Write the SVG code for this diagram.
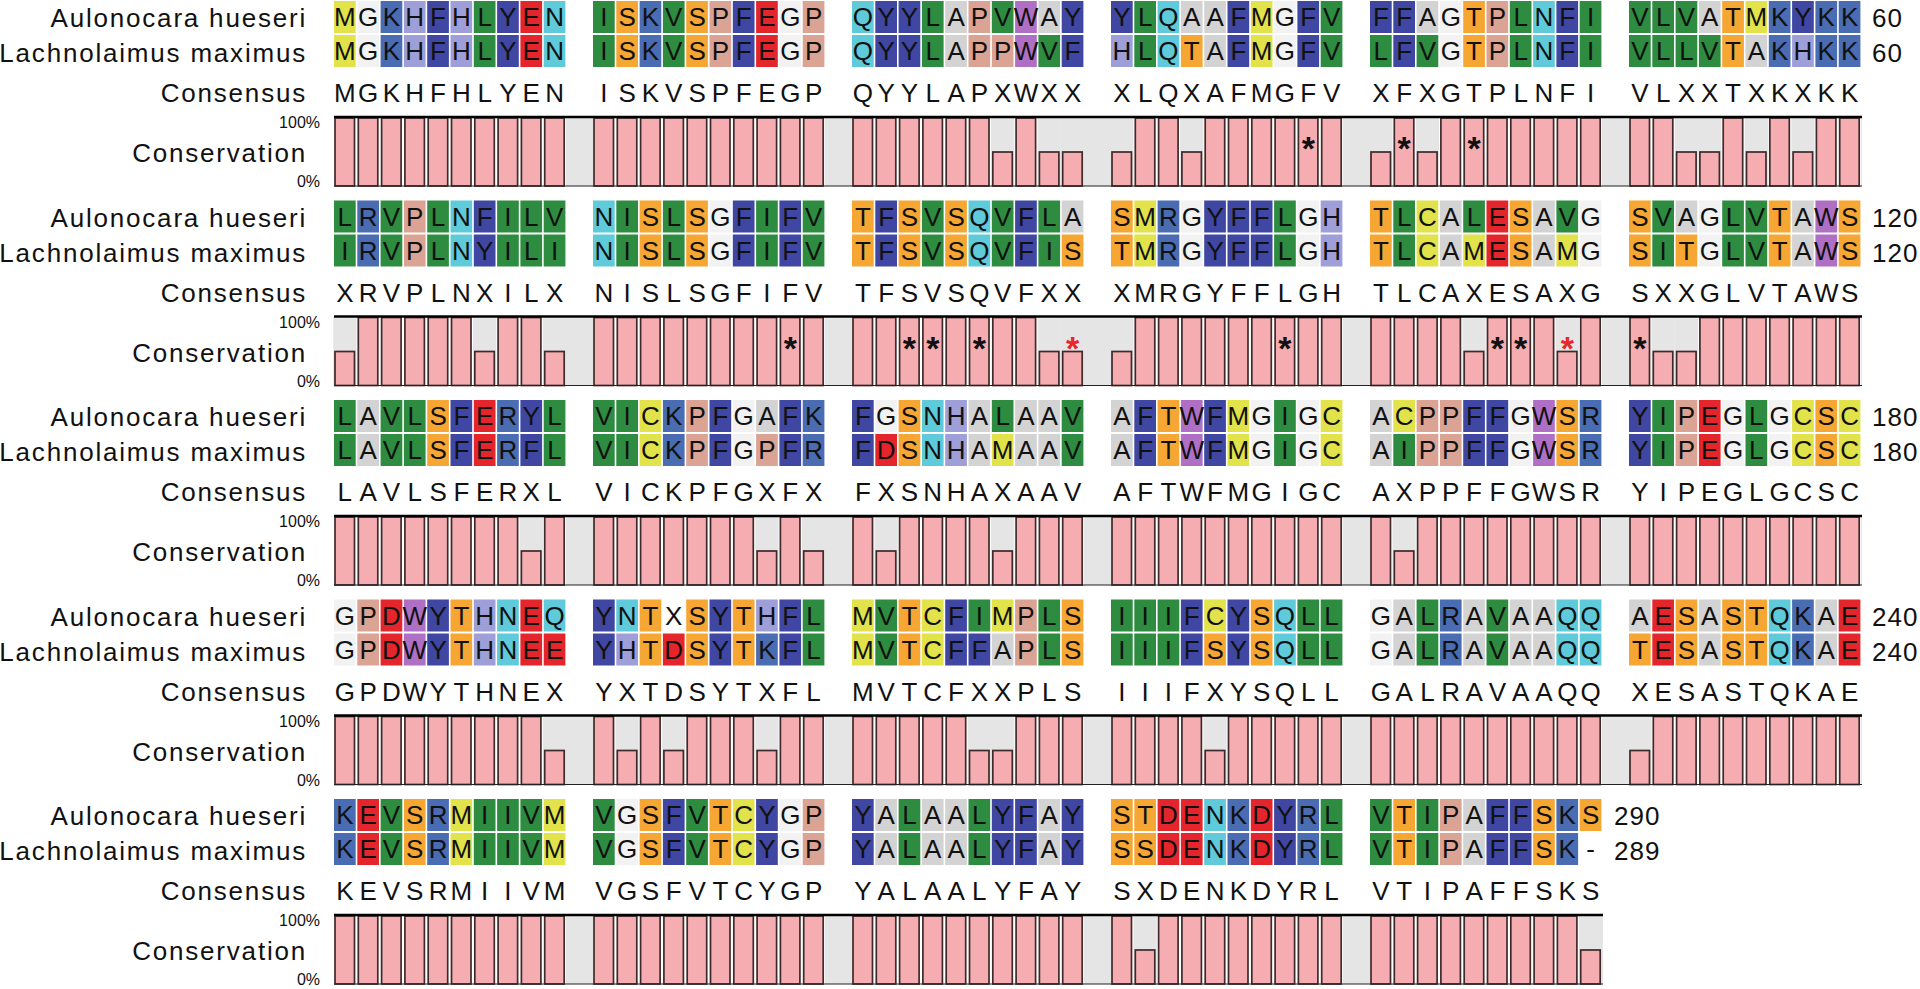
<svg xmlns="http://www.w3.org/2000/svg" width="1920" height="989" viewBox="0 0 1920 989">
<style>
text{font-family:"Liberation Sans",Arial,sans-serif;fill:#111}
.lb{font-size:26px;letter-spacing:1.8px;text-anchor:end}
.nm{font-size:26px;letter-spacing:1px}
.pc{font-size:16px;text-anchor:end}
.q text,.cs{font-size:26px;text-anchor:middle}
.ast{font-size:34px;font-weight:bold;text-anchor:middle}
text.red{fill:#e8262c}
.q rect{width:21.7px;height:32px}
.q rect:nth-of-type(2){x:23.3px}.q rect:nth-of-type(3){x:46.6px}.q rect:nth-of-type(4){x:69.9px}.q rect:nth-of-type(5){x:93.2px}.q rect:nth-of-type(6){x:116.5px}.q rect:nth-of-type(7){x:139.8px}.q rect:nth-of-type(8){x:163.1px}.q rect:nth-of-type(9){x:186.4px}.q rect:nth-of-type(10){x:209.7px}
.M,.C{fill:#e2e24a}.G{fill:#f2f2f2}.K,.R{fill:#4a6cb3}.H{fill:#9e9ed8}.F,.Y{fill:#3f47a3}.L,.I,.V{fill:#2e8c40}.E,.D{fill:#e4262c}.N,.Q{fill:#5fcad9}.S,.T{fill:#f6a633}.P{fill:#dba393}.A{fill:#d3d3d3}.W{fill:#ae6fc4}.X{fill:none}
.bg{fill:#e5e5e5}
.w{fill:#fff;width:232px;height:69px;y:1px}
.gc{fill:#e5e5e5;width:23.3px;height:69px;y:1px}
.fb,.hb{fill:#f5adb1;stroke:#3e2a2a;stroke-width:1.7;width:19.5px}
.fb{height:68px;y:1px}
.hb{height:34px;y:35px}
.tl{stroke:#000;stroke-width:2.5}
.bl{stroke:#222;stroke-width:1.2}
</style>
<g id="block1">
<text class="lb" x="307" y="27">Aulonocara hueseri</text>
<text class="lb" x="307" y="62">Lachnolaimus maximus</text>
<text class="lb" x="307" y="102">Consensus</text>
<text class="lb" x="307" y="162">Conservation</text>
<text class="pc" x="320" y="128">100%</text>
<text class="pc" x="320" y="187">0%</text>
<text class="nm" x="1872" y="27">60</text>
<text class="nm" x="1872" y="62">60</text>
<rect class="bg" x="334" y="118" width="1528" height="68"/>
<g transform="translate(334,0)">
<g class="q" transform="translate(0,1)"><rect class="M"/><rect class="G"/><rect class="K"/><rect class="H"/><rect class="F"/><rect class="H"/><rect class="L"/><rect class="Y"/><rect class="E"/><rect class="N"/><text x="10.85 34.15 57.45 80.75 104.05 127.35 150.65 173.95 197.25 220.55" y="25">MGKHFHLYEN</text></g>
<g class="q" transform="translate(0,35)"><rect class="M"/><rect class="G"/><rect class="K"/><rect class="H"/><rect class="F"/><rect class="H"/><rect class="L"/><rect class="Y"/><rect class="E"/><rect class="N"/><text x="10.85 34.15 57.45 80.75 104.05 127.35 150.65 173.95 197.25 220.55" y="25">MGKHFHLYEN</text></g>
<text class="cs" x="10.85 34.15 57.45 80.75 104.05 127.35 150.65 173.95 197.25 220.55" y="102">MGKHFHLYEN</text>
<g transform="translate(0,117)"><rect class="w"/><rect class="fb" x="1"/><rect class="fb" x="24.3"/><rect class="fb" x="47.6"/><rect class="fb" x="70.9"/><rect class="fb" x="94.2"/><rect class="fb" x="117.5"/><rect class="fb" x="140.8"/><rect class="fb" x="164.1"/><rect class="fb" x="187.4"/><rect class="fb" x="210.7"/></g>
</g>
<g transform="translate(593,0)">
<g class="q" transform="translate(0,1)"><rect class="I"/><rect class="S"/><rect class="K"/><rect class="V"/><rect class="S"/><rect class="P"/><rect class="F"/><rect class="E"/><rect class="G"/><rect class="P"/><text x="10.85 34.15 57.45 80.75 104.05 127.35 150.65 173.95 197.25 220.55" y="25">ISKVSPFEGP</text></g>
<g class="q" transform="translate(0,35)"><rect class="I"/><rect class="S"/><rect class="K"/><rect class="V"/><rect class="S"/><rect class="P"/><rect class="F"/><rect class="E"/><rect class="G"/><rect class="P"/><text x="10.85 34.15 57.45 80.75 104.05 127.35 150.65 173.95 197.25 220.55" y="25">ISKVSPFEGP</text></g>
<text class="cs" x="10.85 34.15 57.45 80.75 104.05 127.35 150.65 173.95 197.25 220.55" y="102">ISKVSPFEGP</text>
<g transform="translate(0,117)"><rect class="w"/><rect class="fb" x="1"/><rect class="fb" x="24.3"/><rect class="fb" x="47.6"/><rect class="fb" x="70.9"/><rect class="fb" x="94.2"/><rect class="fb" x="117.5"/><rect class="fb" x="140.8"/><rect class="fb" x="164.1"/><rect class="fb" x="187.4"/><rect class="fb" x="210.7"/></g>
</g>
<g transform="translate(852,0)">
<g class="q" transform="translate(0,1)"><rect class="Q"/><rect class="Y"/><rect class="Y"/><rect class="L"/><rect class="A"/><rect class="P"/><rect class="V"/><rect class="W"/><rect class="A"/><rect class="Y"/><text x="10.85 34.15 57.45 80.75 104.05 127.35 150.65 173.95 197.25 220.55" y="25">QYYLAPVWAY</text></g>
<g class="q" transform="translate(0,35)"><rect class="Q"/><rect class="Y"/><rect class="Y"/><rect class="L"/><rect class="A"/><rect class="P"/><rect class="P"/><rect class="W"/><rect class="V"/><rect class="F"/><text x="10.85 34.15 57.45 80.75 104.05 127.35 150.65 173.95 197.25 220.55" y="25">QYYLAPPWVF</text></g>
<text class="cs" x="10.85 34.15 57.45 80.75 104.05 127.35 150.65 173.95 197.25 220.55" y="102">QYYLAPXWXX</text>
<g transform="translate(0,117)"><rect class="w"/><rect class="gc" x="139"/><rect class="gc" x="185.6"/><rect class="gc" x="208.9"/><rect class="fb" x="1"/><rect class="fb" x="24.3"/><rect class="fb" x="47.6"/><rect class="fb" x="70.9"/><rect class="fb" x="94.2"/><rect class="fb" x="117.5"/><rect class="hb" x="140.8"/><rect class="fb" x="164.1"/><rect class="hb" x="187.4"/><rect class="hb" x="210.7"/></g>
</g>
<g transform="translate(1111,0)">
<g class="q" transform="translate(0,1)"><rect class="Y"/><rect class="L"/><rect class="Q"/><rect class="A"/><rect class="A"/><rect class="F"/><rect class="M"/><rect class="G"/><rect class="F"/><rect class="V"/><text x="10.85 34.15 57.45 80.75 104.05 127.35 150.65 173.95 197.25 220.55" y="25">YLQAAFMGFV</text></g>
<g class="q" transform="translate(0,35)"><rect class="H"/><rect class="L"/><rect class="Q"/><rect class="T"/><rect class="A"/><rect class="F"/><rect class="M"/><rect class="G"/><rect class="F"/><rect class="V"/><text x="10.85 34.15 57.45 80.75 104.05 127.35 150.65 173.95 197.25 220.55" y="25">HLQTAFMGFV</text></g>
<text class="cs" x="10.85 34.15 57.45 80.75 104.05 127.35 150.65 173.95 197.25 220.55" y="102">XLQXAFMGFV</text>
<g transform="translate(0,117)"><rect class="w"/><rect class="gc" x="-0.8"/><rect class="gc" x="69.1"/><rect class="hb" x="1"/><rect class="fb" x="24.3"/><rect class="fb" x="47.6"/><rect class="hb" x="70.9"/><rect class="fb" x="94.2"/><rect class="fb" x="117.5"/><rect class="fb" x="140.8"/><rect class="fb" x="164.1"/><rect class="fb" x="187.4"/><rect class="fb" x="210.7"/></g>
</g>
<g transform="translate(1370,0)">
<g class="q" transform="translate(0,1)"><rect class="F"/><rect class="F"/><rect class="A"/><rect class="G"/><rect class="T"/><rect class="P"/><rect class="L"/><rect class="N"/><rect class="F"/><rect class="I"/><text x="10.85 34.15 57.45 80.75 104.05 127.35 150.65 173.95 197.25 220.55" y="25">FFAGTPLNFI</text></g>
<g class="q" transform="translate(0,35)"><rect class="L"/><rect class="F"/><rect class="V"/><rect class="G"/><rect class="T"/><rect class="P"/><rect class="L"/><rect class="N"/><rect class="F"/><rect class="I"/><text x="10.85 34.15 57.45 80.75 104.05 127.35 150.65 173.95 197.25 220.55" y="25">LFVGTPLNFI</text></g>
<text class="cs" x="10.85 34.15 57.45 80.75 104.05 127.35 150.65 173.95 197.25 220.55" y="102">XFXGTPLNFI</text>
<g transform="translate(0,117)"><rect class="w"/><rect class="gc" x="-0.8"/><rect class="gc" x="45.8"/><rect class="hb" x="1"/><rect class="fb" x="24.3"/><rect class="hb" x="47.6"/><rect class="fb" x="70.9"/><rect class="fb" x="94.2"/><rect class="fb" x="117.5"/><rect class="fb" x="140.8"/><rect class="fb" x="164.1"/><rect class="fb" x="187.4"/><rect class="fb" x="210.7"/></g>
</g>
<g transform="translate(1629,0)">
<g class="q" transform="translate(0,1)"><rect class="V"/><rect class="L"/><rect class="V"/><rect class="A"/><rect class="T"/><rect class="M"/><rect class="K"/><rect class="Y"/><rect class="K"/><rect class="K"/><text x="10.85 34.15 57.45 80.75 104.05 127.35 150.65 173.95 197.25 220.55" y="25">VLVATMKYKK</text></g>
<g class="q" transform="translate(0,35)"><rect class="V"/><rect class="L"/><rect class="L"/><rect class="V"/><rect class="T"/><rect class="A"/><rect class="K"/><rect class="H"/><rect class="K"/><rect class="K"/><text x="10.85 34.15 57.45 80.75 104.05 127.35 150.65 173.95 197.25 220.55" y="25">VLLVTAKHKK</text></g>
<text class="cs" x="10.85 34.15 57.45 80.75 104.05 127.35 150.65 173.95 197.25 220.55" y="102">VLXXTXKXKK</text>
<g transform="translate(0,117)"><rect class="w"/><rect class="gc" x="45.8"/><rect class="gc" x="69.1"/><rect class="gc" x="115.7"/><rect class="gc" x="162.3"/><rect class="fb" x="1"/><rect class="fb" x="24.3"/><rect class="hb" x="47.6"/><rect class="hb" x="70.9"/><rect class="fb" x="94.2"/><rect class="hb" x="117.5"/><rect class="fb" x="140.8"/><rect class="hb" x="164.1"/><rect class="fb" x="187.4"/><rect class="fb" x="210.7"/></g>
</g>
<line class="tl" x1="334" y1="117" x2="1862" y2="117"/>
<line class="bl" x1="334" y1="186" x2="1862" y2="186"/>
<text class="ast" x="1308.25" y="160">*</text>
<text class="ast" x="1404.15" y="160">*</text>
<text class="ast" x="1474.05" y="160">*</text>
</g>
<g id="block2" transform="translate(0,199.5)">
<text class="lb" x="307" y="27">Aulonocara hueseri</text>
<text class="lb" x="307" y="62">Lachnolaimus maximus</text>
<text class="lb" x="307" y="102">Consensus</text>
<text class="lb" x="307" y="162">Conservation</text>
<text class="pc" x="320" y="128">100%</text>
<text class="pc" x="320" y="187">0%</text>
<text class="nm" x="1872" y="27">120</text>
<text class="nm" x="1872" y="62">120</text>
<rect class="bg" x="334" y="118" width="1528" height="68"/>
<g transform="translate(334,0)">
<g class="q" transform="translate(0,1)"><rect class="L"/><rect class="R"/><rect class="V"/><rect class="P"/><rect class="L"/><rect class="N"/><rect class="F"/><rect class="I"/><rect class="L"/><rect class="V"/><text x="10.85 34.15 57.45 80.75 104.05 127.35 150.65 173.95 197.25 220.55" y="25">LRVPLNFILV</text></g>
<g class="q" transform="translate(0,35)"><rect class="I"/><rect class="R"/><rect class="V"/><rect class="P"/><rect class="L"/><rect class="N"/><rect class="Y"/><rect class="I"/><rect class="L"/><rect class="I"/><text x="10.85 34.15 57.45 80.75 104.05 127.35 150.65 173.95 197.25 220.55" y="25">IRVPLNYILI</text></g>
<text class="cs" x="10.85 34.15 57.45 80.75 104.05 127.35 150.65 173.95 197.25 220.55" y="102">XRVPLNXILX</text>
<g transform="translate(0,117)"><rect class="w"/><rect class="gc" x="-0.8"/><rect class="gc" x="139"/><rect class="gc" x="208.9"/><rect class="hb" x="1"/><rect class="fb" x="24.3"/><rect class="fb" x="47.6"/><rect class="fb" x="70.9"/><rect class="fb" x="94.2"/><rect class="fb" x="117.5"/><rect class="hb" x="140.8"/><rect class="fb" x="164.1"/><rect class="fb" x="187.4"/><rect class="hb" x="210.7"/></g>
</g>
<g transform="translate(593,0)">
<g class="q" transform="translate(0,1)"><rect class="N"/><rect class="I"/><rect class="S"/><rect class="L"/><rect class="S"/><rect class="G"/><rect class="F"/><rect class="I"/><rect class="F"/><rect class="V"/><text x="10.85 34.15 57.45 80.75 104.05 127.35 150.65 173.95 197.25 220.55" y="25">NISLSGFIFV</text></g>
<g class="q" transform="translate(0,35)"><rect class="N"/><rect class="I"/><rect class="S"/><rect class="L"/><rect class="S"/><rect class="G"/><rect class="F"/><rect class="I"/><rect class="F"/><rect class="V"/><text x="10.85 34.15 57.45 80.75 104.05 127.35 150.65 173.95 197.25 220.55" y="25">NISLSGFIFV</text></g>
<text class="cs" x="10.85 34.15 57.45 80.75 104.05 127.35 150.65 173.95 197.25 220.55" y="102">NISLSGFIFV</text>
<g transform="translate(0,117)"><rect class="w"/><rect class="fb" x="1"/><rect class="fb" x="24.3"/><rect class="fb" x="47.6"/><rect class="fb" x="70.9"/><rect class="fb" x="94.2"/><rect class="fb" x="117.5"/><rect class="fb" x="140.8"/><rect class="fb" x="164.1"/><rect class="fb" x="187.4"/><rect class="fb" x="210.7"/></g>
</g>
<g transform="translate(852,0)">
<g class="q" transform="translate(0,1)"><rect class="T"/><rect class="F"/><rect class="S"/><rect class="V"/><rect class="S"/><rect class="Q"/><rect class="V"/><rect class="F"/><rect class="L"/><rect class="A"/><text x="10.85 34.15 57.45 80.75 104.05 127.35 150.65 173.95 197.25 220.55" y="25">TFSVSQVFLA</text></g>
<g class="q" transform="translate(0,35)"><rect class="T"/><rect class="F"/><rect class="S"/><rect class="V"/><rect class="S"/><rect class="Q"/><rect class="V"/><rect class="F"/><rect class="I"/><rect class="S"/><text x="10.85 34.15 57.45 80.75 104.05 127.35 150.65 173.95 197.25 220.55" y="25">TFSVSQVFIS</text></g>
<text class="cs" x="10.85 34.15 57.45 80.75 104.05 127.35 150.65 173.95 197.25 220.55" y="102">TFSVSQVFXX</text>
<g transform="translate(0,117)"><rect class="w"/><rect class="gc" x="185.6"/><rect class="gc" x="208.9"/><rect class="fb" x="1"/><rect class="fb" x="24.3"/><rect class="fb" x="47.6"/><rect class="fb" x="70.9"/><rect class="fb" x="94.2"/><rect class="fb" x="117.5"/><rect class="fb" x="140.8"/><rect class="fb" x="164.1"/><rect class="hb" x="187.4"/><rect class="hb" x="210.7"/></g>
</g>
<g transform="translate(1111,0)">
<g class="q" transform="translate(0,1)"><rect class="S"/><rect class="M"/><rect class="R"/><rect class="G"/><rect class="Y"/><rect class="F"/><rect class="F"/><rect class="L"/><rect class="G"/><rect class="H"/><text x="10.85 34.15 57.45 80.75 104.05 127.35 150.65 173.95 197.25 220.55" y="25">SMRGYFFLGH</text></g>
<g class="q" transform="translate(0,35)"><rect class="T"/><rect class="M"/><rect class="R"/><rect class="G"/><rect class="Y"/><rect class="F"/><rect class="F"/><rect class="L"/><rect class="G"/><rect class="H"/><text x="10.85 34.15 57.45 80.75 104.05 127.35 150.65 173.95 197.25 220.55" y="25">TMRGYFFLGH</text></g>
<text class="cs" x="10.85 34.15 57.45 80.75 104.05 127.35 150.65 173.95 197.25 220.55" y="102">XMRGYFFLGH</text>
<g transform="translate(0,117)"><rect class="w"/><rect class="gc" x="-0.8"/><rect class="hb" x="1"/><rect class="fb" x="24.3"/><rect class="fb" x="47.6"/><rect class="fb" x="70.9"/><rect class="fb" x="94.2"/><rect class="fb" x="117.5"/><rect class="fb" x="140.8"/><rect class="fb" x="164.1"/><rect class="fb" x="187.4"/><rect class="fb" x="210.7"/></g>
</g>
<g transform="translate(1370,0)">
<g class="q" transform="translate(0,1)"><rect class="T"/><rect class="L"/><rect class="C"/><rect class="A"/><rect class="L"/><rect class="E"/><rect class="S"/><rect class="A"/><rect class="V"/><rect class="G"/><text x="10.85 34.15 57.45 80.75 104.05 127.35 150.65 173.95 197.25 220.55" y="25">TLCALESAVG</text></g>
<g class="q" transform="translate(0,35)"><rect class="T"/><rect class="L"/><rect class="C"/><rect class="A"/><rect class="M"/><rect class="E"/><rect class="S"/><rect class="A"/><rect class="M"/><rect class="G"/><text x="10.85 34.15 57.45 80.75 104.05 127.35 150.65 173.95 197.25 220.55" y="25">TLCAMESAMG</text></g>
<text class="cs" x="10.85 34.15 57.45 80.75 104.05 127.35 150.65 173.95 197.25 220.55" y="102">TLCAXESAXG</text>
<g transform="translate(0,117)"><rect class="w"/><rect class="gc" x="92.4"/><rect class="gc" x="185.6"/><rect class="fb" x="1"/><rect class="fb" x="24.3"/><rect class="fb" x="47.6"/><rect class="fb" x="70.9"/><rect class="hb" x="94.2"/><rect class="fb" x="117.5"/><rect class="fb" x="140.8"/><rect class="fb" x="164.1"/><rect class="hb" x="187.4"/><rect class="fb" x="210.7"/></g>
</g>
<g transform="translate(1629,0)">
<g class="q" transform="translate(0,1)"><rect class="S"/><rect class="V"/><rect class="A"/><rect class="G"/><rect class="L"/><rect class="V"/><rect class="T"/><rect class="A"/><rect class="W"/><rect class="S"/><text x="10.85 34.15 57.45 80.75 104.05 127.35 150.65 173.95 197.25 220.55" y="25">SVAGLVTAWS</text></g>
<g class="q" transform="translate(0,35)"><rect class="S"/><rect class="I"/><rect class="T"/><rect class="G"/><rect class="L"/><rect class="V"/><rect class="T"/><rect class="A"/><rect class="W"/><rect class="S"/><text x="10.85 34.15 57.45 80.75 104.05 127.35 150.65 173.95 197.25 220.55" y="25">SITGLVTAWS</text></g>
<text class="cs" x="10.85 34.15 57.45 80.75 104.05 127.35 150.65 173.95 197.25 220.55" y="102">SXXGLVTAWS</text>
<g transform="translate(0,117)"><rect class="w"/><rect class="gc" x="22.5"/><rect class="gc" x="45.8"/><rect class="fb" x="1"/><rect class="hb" x="24.3"/><rect class="hb" x="47.6"/><rect class="fb" x="70.9"/><rect class="fb" x="94.2"/><rect class="fb" x="117.5"/><rect class="fb" x="140.8"/><rect class="fb" x="164.1"/><rect class="fb" x="187.4"/><rect class="fb" x="210.7"/></g>
</g>
<line class="tl" x1="334" y1="117" x2="1862" y2="117"/>
<line class="bl" x1="334" y1="186" x2="1862" y2="186"/>
<text class="ast" x="790.25" y="160">*</text>
<text class="ast" x="909.45" y="160">*</text>
<text class="ast" x="932.75" y="160">*</text>
<text class="ast" x="979.35" y="160">*</text>
<text class="ast red" x="1072.55" y="160">*</text>
<text class="ast" x="1284.95" y="160">*</text>
<text class="ast" x="1497.35" y="160">*</text>
<text class="ast" x="1520.65" y="160">*</text>
<text class="ast red" x="1567.25" y="160">*</text>
<text class="ast" x="1639.85" y="160">*</text>
</g>
<g id="block3" transform="translate(0,399)">
<text class="lb" x="307" y="27">Aulonocara hueseri</text>
<text class="lb" x="307" y="62">Lachnolaimus maximus</text>
<text class="lb" x="307" y="102">Consensus</text>
<text class="lb" x="307" y="162">Conservation</text>
<text class="pc" x="320" y="128">100%</text>
<text class="pc" x="320" y="187">0%</text>
<text class="nm" x="1872" y="27">180</text>
<text class="nm" x="1872" y="62">180</text>
<rect class="bg" x="334" y="118" width="1528" height="68"/>
<g transform="translate(334,0)">
<g class="q" transform="translate(0,1)"><rect class="L"/><rect class="A"/><rect class="V"/><rect class="L"/><rect class="S"/><rect class="F"/><rect class="E"/><rect class="R"/><rect class="Y"/><rect class="L"/><text x="10.85 34.15 57.45 80.75 104.05 127.35 150.65 173.95 197.25 220.55" y="25">LAVLSFERYL</text></g>
<g class="q" transform="translate(0,35)"><rect class="L"/><rect class="A"/><rect class="V"/><rect class="L"/><rect class="S"/><rect class="F"/><rect class="E"/><rect class="R"/><rect class="F"/><rect class="L"/><text x="10.85 34.15 57.45 80.75 104.05 127.35 150.65 173.95 197.25 220.55" y="25">LAVLSFERFL</text></g>
<text class="cs" x="10.85 34.15 57.45 80.75 104.05 127.35 150.65 173.95 197.25 220.55" y="102">LAVLSFERXL</text>
<g transform="translate(0,117)"><rect class="w"/><rect class="gc" x="185.6"/><rect class="fb" x="1"/><rect class="fb" x="24.3"/><rect class="fb" x="47.6"/><rect class="fb" x="70.9"/><rect class="fb" x="94.2"/><rect class="fb" x="117.5"/><rect class="fb" x="140.8"/><rect class="fb" x="164.1"/><rect class="hb" x="187.4"/><rect class="fb" x="210.7"/></g>
</g>
<g transform="translate(593,0)">
<g class="q" transform="translate(0,1)"><rect class="V"/><rect class="I"/><rect class="C"/><rect class="K"/><rect class="P"/><rect class="F"/><rect class="G"/><rect class="A"/><rect class="F"/><rect class="K"/><text x="10.85 34.15 57.45 80.75 104.05 127.35 150.65 173.95 197.25 220.55" y="25">VICKPFGAFK</text></g>
<g class="q" transform="translate(0,35)"><rect class="V"/><rect class="I"/><rect class="C"/><rect class="K"/><rect class="P"/><rect class="F"/><rect class="G"/><rect class="P"/><rect class="F"/><rect class="R"/><text x="10.85 34.15 57.45 80.75 104.05 127.35 150.65 173.95 197.25 220.55" y="25">VICKPFGPFR</text></g>
<text class="cs" x="10.85 34.15 57.45 80.75 104.05 127.35 150.65 173.95 197.25 220.55" y="102">VICKPFGXFX</text>
<g transform="translate(0,117)"><rect class="w"/><rect class="gc" x="162.3"/><rect class="gc" x="208.9"/><rect class="fb" x="1"/><rect class="fb" x="24.3"/><rect class="fb" x="47.6"/><rect class="fb" x="70.9"/><rect class="fb" x="94.2"/><rect class="fb" x="117.5"/><rect class="fb" x="140.8"/><rect class="hb" x="164.1"/><rect class="fb" x="187.4"/><rect class="hb" x="210.7"/></g>
</g>
<g transform="translate(852,0)">
<g class="q" transform="translate(0,1)"><rect class="F"/><rect class="G"/><rect class="S"/><rect class="N"/><rect class="H"/><rect class="A"/><rect class="L"/><rect class="A"/><rect class="A"/><rect class="V"/><text x="10.85 34.15 57.45 80.75 104.05 127.35 150.65 173.95 197.25 220.55" y="25">FGSNHALAAV</text></g>
<g class="q" transform="translate(0,35)"><rect class="F"/><rect class="D"/><rect class="S"/><rect class="N"/><rect class="H"/><rect class="A"/><rect class="M"/><rect class="A"/><rect class="A"/><rect class="V"/><text x="10.85 34.15 57.45 80.75 104.05 127.35 150.65 173.95 197.25 220.55" y="25">FDSNHAMAAV</text></g>
<text class="cs" x="10.85 34.15 57.45 80.75 104.05 127.35 150.65 173.95 197.25 220.55" y="102">FXSNHAXAAV</text>
<g transform="translate(0,117)"><rect class="w"/><rect class="gc" x="22.5"/><rect class="gc" x="139"/><rect class="fb" x="1"/><rect class="hb" x="24.3"/><rect class="fb" x="47.6"/><rect class="fb" x="70.9"/><rect class="fb" x="94.2"/><rect class="fb" x="117.5"/><rect class="hb" x="140.8"/><rect class="fb" x="164.1"/><rect class="fb" x="187.4"/><rect class="fb" x="210.7"/></g>
</g>
<g transform="translate(1111,0)">
<g class="q" transform="translate(0,1)"><rect class="A"/><rect class="F"/><rect class="T"/><rect class="W"/><rect class="F"/><rect class="M"/><rect class="G"/><rect class="I"/><rect class="G"/><rect class="C"/><text x="10.85 34.15 57.45 80.75 104.05 127.35 150.65 173.95 197.25 220.55" y="25">AFTWFMGIGC</text></g>
<g class="q" transform="translate(0,35)"><rect class="A"/><rect class="F"/><rect class="T"/><rect class="W"/><rect class="F"/><rect class="M"/><rect class="G"/><rect class="I"/><rect class="G"/><rect class="C"/><text x="10.85 34.15 57.45 80.75 104.05 127.35 150.65 173.95 197.25 220.55" y="25">AFTWFMGIGC</text></g>
<text class="cs" x="10.85 34.15 57.45 80.75 104.05 127.35 150.65 173.95 197.25 220.55" y="102">AFTWFMGIGC</text>
<g transform="translate(0,117)"><rect class="w"/><rect class="fb" x="1"/><rect class="fb" x="24.3"/><rect class="fb" x="47.6"/><rect class="fb" x="70.9"/><rect class="fb" x="94.2"/><rect class="fb" x="117.5"/><rect class="fb" x="140.8"/><rect class="fb" x="164.1"/><rect class="fb" x="187.4"/><rect class="fb" x="210.7"/></g>
</g>
<g transform="translate(1370,0)">
<g class="q" transform="translate(0,1)"><rect class="A"/><rect class="C"/><rect class="P"/><rect class="P"/><rect class="F"/><rect class="F"/><rect class="G"/><rect class="W"/><rect class="S"/><rect class="R"/><text x="10.85 34.15 57.45 80.75 104.05 127.35 150.65 173.95 197.25 220.55" y="25">ACPPFFGWSR</text></g>
<g class="q" transform="translate(0,35)"><rect class="A"/><rect class="I"/><rect class="P"/><rect class="P"/><rect class="F"/><rect class="F"/><rect class="G"/><rect class="W"/><rect class="S"/><rect class="R"/><text x="10.85 34.15 57.45 80.75 104.05 127.35 150.65 173.95 197.25 220.55" y="25">AIPPFFGWSR</text></g>
<text class="cs" x="10.85 34.15 57.45 80.75 104.05 127.35 150.65 173.95 197.25 220.55" y="102">AXPPFFGWSR</text>
<g transform="translate(0,117)"><rect class="w"/><rect class="gc" x="22.5"/><rect class="fb" x="1"/><rect class="hb" x="24.3"/><rect class="fb" x="47.6"/><rect class="fb" x="70.9"/><rect class="fb" x="94.2"/><rect class="fb" x="117.5"/><rect class="fb" x="140.8"/><rect class="fb" x="164.1"/><rect class="fb" x="187.4"/><rect class="fb" x="210.7"/></g>
</g>
<g transform="translate(1629,0)">
<g class="q" transform="translate(0,1)"><rect class="Y"/><rect class="I"/><rect class="P"/><rect class="E"/><rect class="G"/><rect class="L"/><rect class="G"/><rect class="C"/><rect class="S"/><rect class="C"/><text x="10.85 34.15 57.45 80.75 104.05 127.35 150.65 173.95 197.25 220.55" y="25">YIPEGLGCSC</text></g>
<g class="q" transform="translate(0,35)"><rect class="Y"/><rect class="I"/><rect class="P"/><rect class="E"/><rect class="G"/><rect class="L"/><rect class="G"/><rect class="C"/><rect class="S"/><rect class="C"/><text x="10.85 34.15 57.45 80.75 104.05 127.35 150.65 173.95 197.25 220.55" y="25">YIPEGLGCSC</text></g>
<text class="cs" x="10.85 34.15 57.45 80.75 104.05 127.35 150.65 173.95 197.25 220.55" y="102">YIPEGLGCSC</text>
<g transform="translate(0,117)"><rect class="w"/><rect class="fb" x="1"/><rect class="fb" x="24.3"/><rect class="fb" x="47.6"/><rect class="fb" x="70.9"/><rect class="fb" x="94.2"/><rect class="fb" x="117.5"/><rect class="fb" x="140.8"/><rect class="fb" x="164.1"/><rect class="fb" x="187.4"/><rect class="fb" x="210.7"/></g>
</g>
<line class="tl" x1="334" y1="117" x2="1862" y2="117"/>
<line class="bl" x1="334" y1="186" x2="1862" y2="186"/>
</g>
<g id="block4" transform="translate(0,598.5)">
<text class="lb" x="307" y="27">Aulonocara hueseri</text>
<text class="lb" x="307" y="62">Lachnolaimus maximus</text>
<text class="lb" x="307" y="102">Consensus</text>
<text class="lb" x="307" y="162">Conservation</text>
<text class="pc" x="320" y="128">100%</text>
<text class="pc" x="320" y="187">0%</text>
<text class="nm" x="1872" y="27">240</text>
<text class="nm" x="1872" y="62">240</text>
<rect class="bg" x="334" y="118" width="1528" height="68"/>
<g transform="translate(334,0)">
<g class="q" transform="translate(0,1)"><rect class="G"/><rect class="P"/><rect class="D"/><rect class="W"/><rect class="Y"/><rect class="T"/><rect class="H"/><rect class="N"/><rect class="E"/><rect class="Q"/><text x="10.85 34.15 57.45 80.75 104.05 127.35 150.65 173.95 197.25 220.55" y="25">GPDWYTHNEQ</text></g>
<g class="q" transform="translate(0,35)"><rect class="G"/><rect class="P"/><rect class="D"/><rect class="W"/><rect class="Y"/><rect class="T"/><rect class="H"/><rect class="N"/><rect class="E"/><rect class="E"/><text x="10.85 34.15 57.45 80.75 104.05 127.35 150.65 173.95 197.25 220.55" y="25">GPDWYTHNEE</text></g>
<text class="cs" x="10.85 34.15 57.45 80.75 104.05 127.35 150.65 173.95 197.25 220.55" y="102">GPDWYTHNEX</text>
<g transform="translate(0,117)"><rect class="w"/><rect class="gc" x="208.9"/><rect class="fb" x="1"/><rect class="fb" x="24.3"/><rect class="fb" x="47.6"/><rect class="fb" x="70.9"/><rect class="fb" x="94.2"/><rect class="fb" x="117.5"/><rect class="fb" x="140.8"/><rect class="fb" x="164.1"/><rect class="fb" x="187.4"/><rect class="hb" x="210.7"/></g>
</g>
<g transform="translate(593,0)">
<g class="q" transform="translate(0,1)"><rect class="Y"/><rect class="N"/><rect class="T"/><rect class="X"/><rect class="S"/><rect class="Y"/><rect class="T"/><rect class="H"/><rect class="F"/><rect class="L"/><text x="10.85 34.15 57.45 80.75 104.05 127.35 150.65 173.95 197.25 220.55" y="25">YNTXSYTHFL</text></g>
<g class="q" transform="translate(0,35)"><rect class="Y"/><rect class="H"/><rect class="T"/><rect class="D"/><rect class="S"/><rect class="Y"/><rect class="T"/><rect class="K"/><rect class="F"/><rect class="L"/><text x="10.85 34.15 57.45 80.75 104.05 127.35 150.65 173.95 197.25 220.55" y="25">YHTDSYTKFL</text></g>
<text class="cs" x="10.85 34.15 57.45 80.75 104.05 127.35 150.65 173.95 197.25 220.55" y="102">YXTDSYTXFL</text>
<g transform="translate(0,117)"><rect class="w"/><rect class="gc" x="22.5"/><rect class="gc" x="69.1"/><rect class="gc" x="162.3"/><rect class="fb" x="1"/><rect class="hb" x="24.3"/><rect class="fb" x="47.6"/><rect class="hb" x="70.9"/><rect class="fb" x="94.2"/><rect class="fb" x="117.5"/><rect class="fb" x="140.8"/><rect class="hb" x="164.1"/><rect class="fb" x="187.4"/><rect class="fb" x="210.7"/></g>
</g>
<g transform="translate(852,0)">
<g class="q" transform="translate(0,1)"><rect class="M"/><rect class="V"/><rect class="T"/><rect class="C"/><rect class="F"/><rect class="I"/><rect class="M"/><rect class="P"/><rect class="L"/><rect class="S"/><text x="10.85 34.15 57.45 80.75 104.05 127.35 150.65 173.95 197.25 220.55" y="25">MVTCFIMPLS</text></g>
<g class="q" transform="translate(0,35)"><rect class="M"/><rect class="V"/><rect class="T"/><rect class="C"/><rect class="F"/><rect class="F"/><rect class="A"/><rect class="P"/><rect class="L"/><rect class="S"/><text x="10.85 34.15 57.45 80.75 104.05 127.35 150.65 173.95 197.25 220.55" y="25">MVTCFFAPLS</text></g>
<text class="cs" x="10.85 34.15 57.45 80.75 104.05 127.35 150.65 173.95 197.25 220.55" y="102">MVTCFXXPLS</text>
<g transform="translate(0,117)"><rect class="w"/><rect class="gc" x="115.7"/><rect class="gc" x="139"/><rect class="fb" x="1"/><rect class="fb" x="24.3"/><rect class="fb" x="47.6"/><rect class="fb" x="70.9"/><rect class="fb" x="94.2"/><rect class="hb" x="117.5"/><rect class="hb" x="140.8"/><rect class="fb" x="164.1"/><rect class="fb" x="187.4"/><rect class="fb" x="210.7"/></g>
</g>
<g transform="translate(1111,0)">
<g class="q" transform="translate(0,1)"><rect class="I"/><rect class="I"/><rect class="I"/><rect class="F"/><rect class="C"/><rect class="Y"/><rect class="S"/><rect class="Q"/><rect class="L"/><rect class="L"/><text x="10.85 34.15 57.45 80.75 104.05 127.35 150.65 173.95 197.25 220.55" y="25">IIIFCYSQLL</text></g>
<g class="q" transform="translate(0,35)"><rect class="I"/><rect class="I"/><rect class="I"/><rect class="F"/><rect class="S"/><rect class="Y"/><rect class="S"/><rect class="Q"/><rect class="L"/><rect class="L"/><text x="10.85 34.15 57.45 80.75 104.05 127.35 150.65 173.95 197.25 220.55" y="25">IIIFSYSQLL</text></g>
<text class="cs" x="10.85 34.15 57.45 80.75 104.05 127.35 150.65 173.95 197.25 220.55" y="102">IIIFXYSQLL</text>
<g transform="translate(0,117)"><rect class="w"/><rect class="gc" x="92.4"/><rect class="fb" x="1"/><rect class="fb" x="24.3"/><rect class="fb" x="47.6"/><rect class="fb" x="70.9"/><rect class="hb" x="94.2"/><rect class="fb" x="117.5"/><rect class="fb" x="140.8"/><rect class="fb" x="164.1"/><rect class="fb" x="187.4"/><rect class="fb" x="210.7"/></g>
</g>
<g transform="translate(1370,0)">
<g class="q" transform="translate(0,1)"><rect class="G"/><rect class="A"/><rect class="L"/><rect class="R"/><rect class="A"/><rect class="V"/><rect class="A"/><rect class="A"/><rect class="Q"/><rect class="Q"/><text x="10.85 34.15 57.45 80.75 104.05 127.35 150.65 173.95 197.25 220.55" y="25">GALRAVAAQQ</text></g>
<g class="q" transform="translate(0,35)"><rect class="G"/><rect class="A"/><rect class="L"/><rect class="R"/><rect class="A"/><rect class="V"/><rect class="A"/><rect class="A"/><rect class="Q"/><rect class="Q"/><text x="10.85 34.15 57.45 80.75 104.05 127.35 150.65 173.95 197.25 220.55" y="25">GALRAVAAQQ</text></g>
<text class="cs" x="10.85 34.15 57.45 80.75 104.05 127.35 150.65 173.95 197.25 220.55" y="102">GALRAVAAQQ</text>
<g transform="translate(0,117)"><rect class="w"/><rect class="fb" x="1"/><rect class="fb" x="24.3"/><rect class="fb" x="47.6"/><rect class="fb" x="70.9"/><rect class="fb" x="94.2"/><rect class="fb" x="117.5"/><rect class="fb" x="140.8"/><rect class="fb" x="164.1"/><rect class="fb" x="187.4"/><rect class="fb" x="210.7"/></g>
</g>
<g transform="translate(1629,0)">
<g class="q" transform="translate(0,1)"><rect class="A"/><rect class="E"/><rect class="S"/><rect class="A"/><rect class="S"/><rect class="T"/><rect class="Q"/><rect class="K"/><rect class="A"/><rect class="E"/><text x="10.85 34.15 57.45 80.75 104.05 127.35 150.65 173.95 197.25 220.55" y="25">AESASTQKAE</text></g>
<g class="q" transform="translate(0,35)"><rect class="T"/><rect class="E"/><rect class="S"/><rect class="A"/><rect class="S"/><rect class="T"/><rect class="Q"/><rect class="K"/><rect class="A"/><rect class="E"/><text x="10.85 34.15 57.45 80.75 104.05 127.35 150.65 173.95 197.25 220.55" y="25">TESASTQKAE</text></g>
<text class="cs" x="10.85 34.15 57.45 80.75 104.05 127.35 150.65 173.95 197.25 220.55" y="102">XESASTQKAE</text>
<g transform="translate(0,117)"><rect class="w"/><rect class="gc" x="-0.8"/><rect class="hb" x="1"/><rect class="fb" x="24.3"/><rect class="fb" x="47.6"/><rect class="fb" x="70.9"/><rect class="fb" x="94.2"/><rect class="fb" x="117.5"/><rect class="fb" x="140.8"/><rect class="fb" x="164.1"/><rect class="fb" x="187.4"/><rect class="fb" x="210.7"/></g>
</g>
<line class="tl" x1="334" y1="117" x2="1862" y2="117"/>
<line class="bl" x1="334" y1="186" x2="1862" y2="186"/>
</g>
<g id="block5" transform="translate(0,798)">
<text class="lb" x="307" y="27">Aulonocara hueseri</text>
<text class="lb" x="307" y="62">Lachnolaimus maximus</text>
<text class="lb" x="307" y="102">Consensus</text>
<text class="lb" x="307" y="162">Conservation</text>
<text class="pc" x="320" y="128">100%</text>
<text class="pc" x="320" y="187">0%</text>
<text class="nm" x="1614" y="27">290</text>
<text class="nm" x="1614" y="62">289</text>
<rect class="bg" x="334" y="118" width="1269" height="68"/>
<g transform="translate(334,0)">
<g class="q" transform="translate(0,1)"><rect class="K"/><rect class="E"/><rect class="V"/><rect class="S"/><rect class="R"/><rect class="M"/><rect class="I"/><rect class="I"/><rect class="V"/><rect class="M"/><text x="10.85 34.15 57.45 80.75 104.05 127.35 150.65 173.95 197.25 220.55" y="25">KEVSRMIIVM</text></g>
<g class="q" transform="translate(0,35)"><rect class="K"/><rect class="E"/><rect class="V"/><rect class="S"/><rect class="R"/><rect class="M"/><rect class="I"/><rect class="I"/><rect class="V"/><rect class="M"/><text x="10.85 34.15 57.45 80.75 104.05 127.35 150.65 173.95 197.25 220.55" y="25">KEVSRMIIVM</text></g>
<text class="cs" x="10.85 34.15 57.45 80.75 104.05 127.35 150.65 173.95 197.25 220.55" y="102">KEVSRMIIVM</text>
<g transform="translate(0,117)"><rect class="w"/><rect class="fb" x="1"/><rect class="fb" x="24.3"/><rect class="fb" x="47.6"/><rect class="fb" x="70.9"/><rect class="fb" x="94.2"/><rect class="fb" x="117.5"/><rect class="fb" x="140.8"/><rect class="fb" x="164.1"/><rect class="fb" x="187.4"/><rect class="fb" x="210.7"/></g>
</g>
<g transform="translate(593,0)">
<g class="q" transform="translate(0,1)"><rect class="V"/><rect class="G"/><rect class="S"/><rect class="F"/><rect class="V"/><rect class="T"/><rect class="C"/><rect class="Y"/><rect class="G"/><rect class="P"/><text x="10.85 34.15 57.45 80.75 104.05 127.35 150.65 173.95 197.25 220.55" y="25">VGSFVTCYGP</text></g>
<g class="q" transform="translate(0,35)"><rect class="V"/><rect class="G"/><rect class="S"/><rect class="F"/><rect class="V"/><rect class="T"/><rect class="C"/><rect class="Y"/><rect class="G"/><rect class="P"/><text x="10.85 34.15 57.45 80.75 104.05 127.35 150.65 173.95 197.25 220.55" y="25">VGSFVTCYGP</text></g>
<text class="cs" x="10.85 34.15 57.45 80.75 104.05 127.35 150.65 173.95 197.25 220.55" y="102">VGSFVTCYGP</text>
<g transform="translate(0,117)"><rect class="w"/><rect class="fb" x="1"/><rect class="fb" x="24.3"/><rect class="fb" x="47.6"/><rect class="fb" x="70.9"/><rect class="fb" x="94.2"/><rect class="fb" x="117.5"/><rect class="fb" x="140.8"/><rect class="fb" x="164.1"/><rect class="fb" x="187.4"/><rect class="fb" x="210.7"/></g>
</g>
<g transform="translate(852,0)">
<g class="q" transform="translate(0,1)"><rect class="Y"/><rect class="A"/><rect class="L"/><rect class="A"/><rect class="A"/><rect class="L"/><rect class="Y"/><rect class="F"/><rect class="A"/><rect class="Y"/><text x="10.85 34.15 57.45 80.75 104.05 127.35 150.65 173.95 197.25 220.55" y="25">YALAALYFAY</text></g>
<g class="q" transform="translate(0,35)"><rect class="Y"/><rect class="A"/><rect class="L"/><rect class="A"/><rect class="A"/><rect class="L"/><rect class="Y"/><rect class="F"/><rect class="A"/><rect class="Y"/><text x="10.85 34.15 57.45 80.75 104.05 127.35 150.65 173.95 197.25 220.55" y="25">YALAALYFAY</text></g>
<text class="cs" x="10.85 34.15 57.45 80.75 104.05 127.35 150.65 173.95 197.25 220.55" y="102">YALAALYFAY</text>
<g transform="translate(0,117)"><rect class="w"/><rect class="fb" x="1"/><rect class="fb" x="24.3"/><rect class="fb" x="47.6"/><rect class="fb" x="70.9"/><rect class="fb" x="94.2"/><rect class="fb" x="117.5"/><rect class="fb" x="140.8"/><rect class="fb" x="164.1"/><rect class="fb" x="187.4"/><rect class="fb" x="210.7"/></g>
</g>
<g transform="translate(1111,0)">
<g class="q" transform="translate(0,1)"><rect class="S"/><rect class="T"/><rect class="D"/><rect class="E"/><rect class="N"/><rect class="K"/><rect class="D"/><rect class="Y"/><rect class="R"/><rect class="L"/><text x="10.85 34.15 57.45 80.75 104.05 127.35 150.65 173.95 197.25 220.55" y="25">STDENKDYRL</text></g>
<g class="q" transform="translate(0,35)"><rect class="S"/><rect class="S"/><rect class="D"/><rect class="E"/><rect class="N"/><rect class="K"/><rect class="D"/><rect class="Y"/><rect class="R"/><rect class="L"/><text x="10.85 34.15 57.45 80.75 104.05 127.35 150.65 173.95 197.25 220.55" y="25">SSDENKDYRL</text></g>
<text class="cs" x="10.85 34.15 57.45 80.75 104.05 127.35 150.65 173.95 197.25 220.55" y="102">SXDENKDYRL</text>
<g transform="translate(0,117)"><rect class="w"/><rect class="gc" x="22.5"/><rect class="fb" x="1"/><rect class="hb" x="24.3"/><rect class="fb" x="47.6"/><rect class="fb" x="70.9"/><rect class="fb" x="94.2"/><rect class="fb" x="117.5"/><rect class="fb" x="140.8"/><rect class="fb" x="164.1"/><rect class="fb" x="187.4"/><rect class="fb" x="210.7"/></g>
</g>
<g transform="translate(1370,0)">
<g class="q" transform="translate(0,1)"><rect class="V"/><rect class="T"/><rect class="I"/><rect class="P"/><rect class="A"/><rect class="F"/><rect class="F"/><rect class="S"/><rect class="K"/><rect class="S"/><text x="10.85 34.15 57.45 80.75 104.05 127.35 150.65 173.95 197.25 220.55" y="25">VTIPAFFSKS</text></g>
<g class="q" transform="translate(0,35)"><rect class="V"/><rect class="T"/><rect class="I"/><rect class="P"/><rect class="A"/><rect class="F"/><rect class="F"/><rect class="S"/><rect class="K"/><rect class="X"/><text x="10.85 34.15 57.45 80.75 104.05 127.35 150.65 173.95 197.25 220.55" y="25">VTIPAFFSK-</text></g>
<text class="cs" x="10.85 34.15 57.45 80.75 104.05 127.35 150.65 173.95 197.25 220.55" y="102">VTIPAFFSKS</text>
<g transform="translate(0,117)"><rect class="w"/><rect class="gc" x="208.9"/><rect class="fb" x="1"/><rect class="fb" x="24.3"/><rect class="fb" x="47.6"/><rect class="fb" x="70.9"/><rect class="fb" x="94.2"/><rect class="fb" x="117.5"/><rect class="fb" x="140.8"/><rect class="fb" x="164.1"/><rect class="fb" x="187.4"/><rect class="hb" x="210.7"/></g>
</g>
<line class="tl" x1="334" y1="117" x2="1603" y2="117"/>
<line class="bl" x1="334" y1="186" x2="1603" y2="186"/>
</g>
</svg>
